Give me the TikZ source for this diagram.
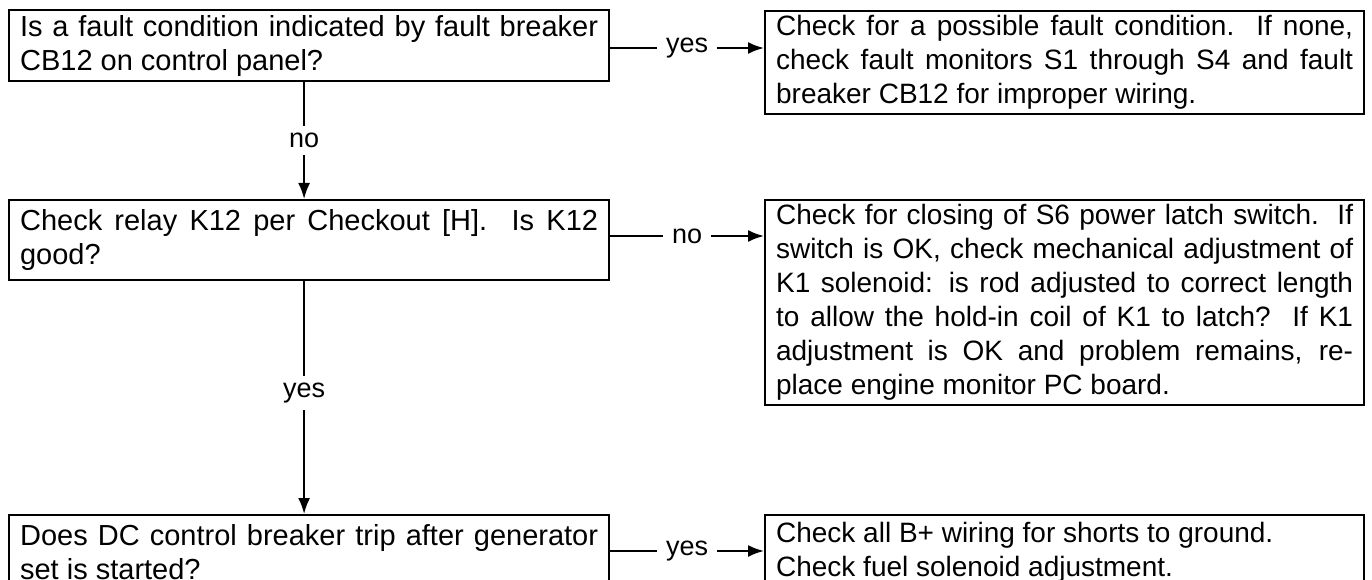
\documentclass[tikz,border=0pt]{standalone}
\usepackage{fontspec}
\setmainfont{Liberation Sans}
\usetikzlibrary{arrows.meta}
\hyphenpenalty=10000
\exhyphenpenalty=10000
\begin{document}
\begin{tikzpicture}[x=1pt,y=-1pt,
  box/.style={draw, line width=2.2pt, anchor=north west, minimum width=600pt,
    text width=578pt, inner xsep=11pt, inner ysep=0pt, align=justify,
    font=\fontsize{29}{34}\selectfont},
  rbox/.style={box, minimum width=599pt, text width=577pt, font=\fontsize{28}{34}\selectfont},
  arr/.style={line width=2pt, -{Latex[length=16pt,width=12pt]}},
  lbl/.style={fill=white, inner xsep=9pt, inner ysep=7pt, font=\fontsize{27}{30}\selectfont}]
\useasboundingbox (0,0) rectangle (1372,580);
% left column
\node[box, minimum height=71pt] (b1) at (8,9)
  {Is a fault condition indicated by fault breaker\linebreak CB12 on control panel?};
\node[box, minimum height=80pt] (b2) at (8,199)
  {Check relay K12 per Checkout [H].\ \ Is K12\linebreak good?};
\node[box, minimum height=75pt] (b3) at (8,514)
  {Does DC control breaker trip after generator\linebreak set is started?};
% right column
\node[rbox, minimum height=103pt] (r1) at (764,10)
  {Check for a possible fault condition.\ \ If none,\linebreak check fault monitors S1 through S4 and fault\linebreak breaker CB12 for improper wiring.};
\node[rbox, minimum height=205pt] (r2) at (764,199)
  {Check for closing of S6 power latch switch.\ \ If\linebreak switch is OK, check mechanical adjustment of\linebreak K1 solenoid: is rod adjusted to correct length\linebreak to allow the hold-in coil of K1 to latch?\ \ If K1\linebreak adjustment is OK and problem remains, re-\linebreak place engine monitor PC board.};
\node[rbox, minimum height=75pt] (r3) at (764,514)
  {Check all B+ wiring for shorts to ground.\newline Check fuel solenoid adjustment.};
% connectors
\draw[arr] (b1.east |- 0,48) -- node[lbl] {yes} (r1.west |- 0,48);
\draw[arr] (b2.east |- 0,236) -- node[lbl] {no} (r2.west |- 0,236);
\draw[arr] (b3.east |- 0,551) -- node[lbl] {yes} (r3.west |- 0,551);
\draw[arr] ([xshift=-5pt]b1.south) -- node[lbl] {no} ([xshift=-5pt]b2.north);
\draw[arr] ([xshift=-5pt]b2.south) -- node[lbl, pos=0.48] {yes} ([xshift=-5pt]b3.north);
\end{tikzpicture}
\end{document}
